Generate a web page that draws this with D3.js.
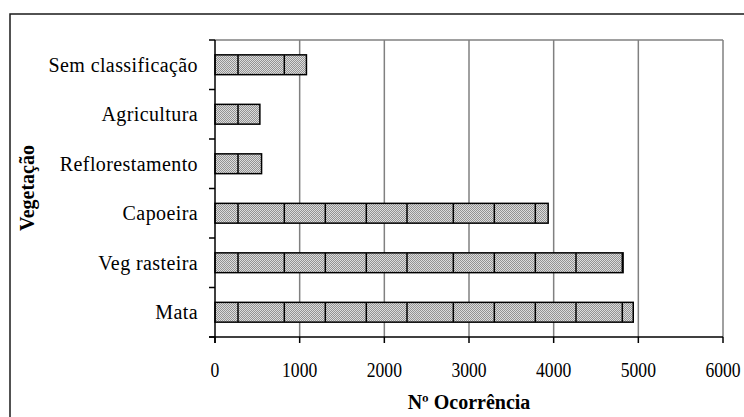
<!DOCTYPE html>
<html>
<head>
<meta charset="utf-8">
<script src="https://cdn.jsdelivr.net/npm/d3@7"></script>
<style>
  html, body { margin: 0; padding: 0; background: #fff; }
  svg { display: block; }
</style>
</head>
<body>
<svg id="chart" width="744" height="417"></svg>
<script>
// Occurrences by vegetation class (bottom to top on the chart)
const categories = ["Mata", "Veg rasteira", "Capoeira", "Reflorestamento", "Agricultura", "Sem classificação"];
const occurrences = [4940, 4820, 3935, 550, 530, 1080];
const xTicks = [0, 1000, 2000, 3000, 4000, 5000, 6000];
const xTitle = "Nº Ocorrência";
const yTitle = "Vegetação";

const FONT = "'Liberation Serif', 'Times New Roman', Times, 'DejaVu Serif', serif";

const svg = d3.select("#chart");
const plot = { left: 215, right: 723, top: 40, bottom: 337 };

const rows = categories.map((c, i) => ({ cat: c, value: occurrences[i] }));

const x = d3.scaleLinear().domain([0, 6000]).range([plot.left, plot.right]);
const y = d3.scaleBand()
  .domain(categories.slice().reverse())
  .range([plot.top, plot.bottom])
  .paddingInner(0.6)
  .paddingOuter(0.3);

// Fill textures: fine grey dither plus the repeating vertical seams of the bar pattern
const defs = svg.append("defs");
const seams = defs.append("pattern")
  .attr("id", "seams").attr("patternUnits", "userSpaceOnUse")
  .attr("x", 237).attr("y", 0)
  .attr("width", 169).attr("height", 2);
seams.append("rect").attr("width", 169).attr("height", 2).attr("fill", "#dcdcdc");
// checkerboard of darker pixels across the tile
d3.range(0, 169).forEach(px => {
  seams.append("rect").attr("x", px).attr("y", px % 2)
    .attr("width", 1).attr("height", 1).attr("fill", "#939393");
});
[1, 47.3, 88.3, 129.3].forEach(px => {
  seams.append("rect").attr("x", px - 0.75).attr("y", 0)
    .attr("width", 1.5).attr("height", 2).attr("fill", "#000");
});

// Outer frame
svg.append("rect")
  .attr("x", 10).attr("y", 14).attr("width", 750).attr("height", 420)
  .attr("fill", "none").attr("stroke", "#1a1a1a").attr("stroke-width", 1.5);

// Gridlines and top border of the plot area
const grid = svg.append("g");
grid.selectAll("line.v").data(xTicks.filter(t => t > 0)).join("line")
  .attr("class", "v")
  .attr("x1", d => x(d)).attr("x2", d => x(d))
  .attr("y1", plot.top).attr("y2", plot.bottom)
  .attr("stroke", "#808080").attr("stroke-width", 1.5);
grid.append("line")
  .attr("x1", plot.left).attr("x2", plot.right)
  .attr("y1", plot.top).attr("y2", plot.top)
  .attr("stroke", "#808080").attr("stroke-width", 1.5);

// Bars
svg.append("g").selectAll("rect").data(rows).join("rect")
  .attr("x", x(0))
  .attr("y", d => y(d.cat))
  .attr("width", d => x(d.value) - x(0))
  .attr("height", y.bandwidth())
  .attr("fill", "url(#seams)")
  .attr("stroke", "#000").attr("stroke-width", 1.5);

// Axes
const axes = svg.append("g").attr("stroke", "#000").attr("stroke-width", 1.5);
axes.append("line")
  .attr("x1", plot.left).attr("x2", plot.left)
  .attr("y1", plot.top).attr("y2", plot.bottom + 6);
axes.append("line")
  .attr("x1", plot.left - 6).attr("x2", plot.right)
  .attr("y1", plot.bottom).attr("y2", plot.bottom);
axes.selectAll("line.xt").data(xTicks).join("line")
  .attr("class", "xt")
  .attr("x1", d => x(d)).attr("x2", d => x(d))
  .attr("y1", plot.bottom).attr("y2", plot.bottom + 6);
const bounds = d3.range(categories.length + 1).map(i => plot.top + i * y.step());
axes.selectAll("line.yt").data(bounds).join("line")
  .attr("class", "yt")
  .attr("x1", plot.left - 6).attr("x2", plot.left)
  .attr("y1", d => d).attr("y2", d => d);

// Tick labels
svg.append("g").selectAll("text").data(xTicks).join("text")
  .attr("transform", d => `translate(${x(d)},377) scale(0.88,1)`)
  .attr("text-anchor", "middle")
  .attr("font-family", FONT).attr("font-size", 20)
  .text(d => d);

// Category labels
svg.append("g").selectAll("text").data(rows).join("text")
  .attr("x", 198)
  .attr("y", d => y(d.cat) + y.bandwidth() / 2 + 7)
  .attr("text-anchor", "end")
  .attr("font-family", FONT).attr("font-size", 20)
  .attr("letter-spacing", 0.4)
  .text(d => d.cat);

// Axis titles
svg.append("text")
  .attr("x", 469).attr("y", 409)
  .attr("text-anchor", "middle")
  .attr("font-family", FONT).attr("font-size", 20).attr("font-weight", "bold")
  .text(xTitle);
svg.append("text")
  .attr("transform", "translate(34,188) rotate(-90)")
  .attr("text-anchor", "middle")
  .attr("font-family", FONT).attr("font-size", 20).attr("font-weight", "bold")
  .text(yTitle);
</script>
</body>
</html>
